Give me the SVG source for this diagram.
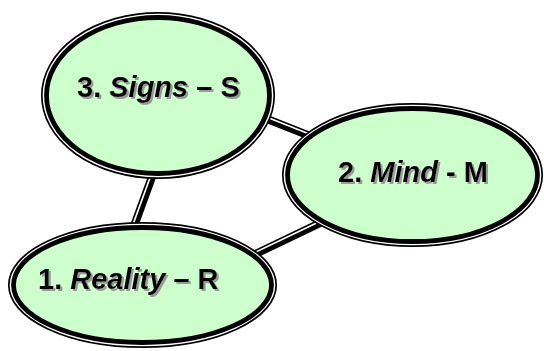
<svg xmlns="http://www.w3.org/2000/svg" width="544" height="351" viewBox="0 0 544 351">
<defs>
<filter id="shadow" x="-10%" y="-30%" width="120%" height="160%">
<feGaussianBlur in="SourceAlpha" stdDeviation="0.6" result="b"/>
<feOffset in="b" dx="2" dy="2" result="o"/>
<feFlood flood-color="#9a9a9a"/>
<feComposite in2="o" operator="in" result="s"/>
<feMerge><feMergeNode in="s"/><feMergeNode in="SourceGraphic"/></feMerge>
</filter>
</defs>
<style>
.outer{fill:#ffffff;stroke:#000;stroke-width:1.7}
.inner{fill:#ccffcc;stroke:#000;stroke-width:4.8}
.thin{stroke:#000;stroke-width:1.7}
.thick{stroke:#000;stroke-width:4.8}
.lbl{font-family:"Liberation Sans",Arial,sans-serif;font-size:29px;font-weight:bold;fill:#000;filter:url(#shadow)}
</style>
<rect width="544" height="351" fill="#fff"/>
<g id="connectors">
<line class="thin" x1="255" y1="110.8" x2="322" y2="137.3"/>
<line class="thick" x1="253.2" y1="115.3" x2="320.2" y2="141.8"/>
<line class="thin" x1="152.6" y1="165.7" x2="126.9" y2="236.3"/>
<line class="thick" x1="157.2" y1="167.4" x2="131.5" y2="238"/>
<line class="thin" x1="325.8" y1="216.8" x2="241.2" y2="257.2"/>
<line class="thick" x1="327.9" y1="221.2" x2="243.3" y2="261.6"/>
</g>
<g id="signs">
<ellipse class="outer" cx="158" cy="95.5" rx="116.2" ry="82.7"/>
<ellipse class="inner" cx="158" cy="95.5" rx="111.5" ry="78"/>
<text class="lbl" x="77" y="97">3. <tspan font-style="italic">Signs</tspan> – S</text>
</g>
<g id="mind">
<ellipse class="outer" cx="412.5" cy="175" rx="129.7" ry="71.2"/>
<ellipse class="inner" cx="412.5" cy="175" rx="125" ry="66.5"/>
<text class="lbl" x="338" y="182">2. <tspan font-style="italic">Mind</tspan> - M</text>
</g>
<g id="reality">
<ellipse class="outer" cx="142.5" cy="285" rx="133.7" ry="62.2"/>
<ellipse class="inner" cx="142.5" cy="285" rx="129" ry="57.5"/>
<text class="lbl" x="38" y="289">1. <tspan font-style="italic">Reality</tspan> – R</text>
</g>
</svg>
